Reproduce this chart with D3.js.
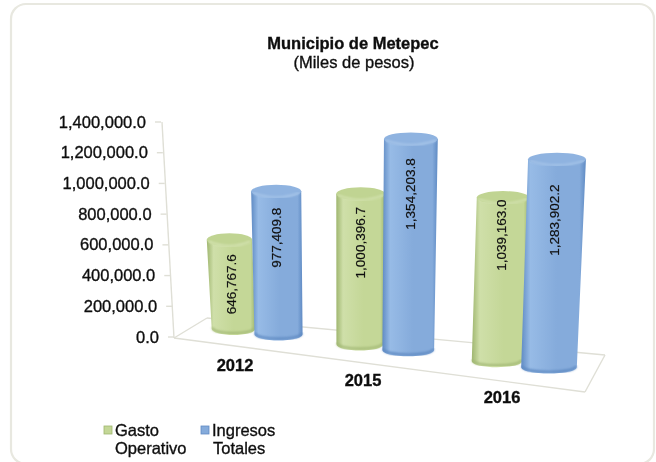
<!DOCTYPE html>
<html><head><meta charset="utf-8"><script src="https://cdn.jsdelivr.net/npm/d3@7"></script>
<style>html,body{margin:0;padding:0;background:#fff}svg{display:block}text{font-family:"Liberation Sans",Arial,sans-serif;fill:#111;stroke:#111;stroke-width:.35}</style></head>
<body><svg id="c" width="656" height="462"></svg>
<script>
const categories = ["2012","2015","2016"];
const seriesNames = ["Gasto Operativo","Ingresos Totales"];
const gastoOperativo = [646767.6,1000396.7,1039163.0];
const ingresosTotales = [977409.8,1354203.8,1283902.2];
const yTicks = [0,200000,400000,600000,800000,1000000,1200000,1400000];
const labelFractions = [[0.5,0.66],[0.66,0.725],[0.75,0.695]];

const svg = d3.select("#c");
const defs = svg.append("defs");
defs.append("filter").attr("id","soft").attr("x","-5%").attr("y","-5%").attr("width","110%").attr("height","110%")
  .append("feGaussianBlur").attr("stdDeviation",0.5);
defs.append("filter").attr("id","blur2").append("feGaussianBlur").attr("stdDeviation",1.2);

const palette = [
 {edge:"#9fb66f",mid:"#cfdfa9",light:"#c4d797",top:"#c0d492",rim:"#d6e4b4",low:"#a3b976"},
 {edge:"#5f8bc4",mid:"#97bbe6",light:"#85abdb",top:"#8fb3e0",rim:"#a9c7ea",low:"#5f8ac2"}];
palette.forEach((p,i)=>{
  const g=defs.append("linearGradient").attr("id","g"+i);
  [[0,p.edge],[.14,p.mid],[.55,p.light],[.9,p.light],[1,p.edge]].forEach(s=>g.append("stop").attr("offset",s[0]).attr("stop-color",s[1]));
});

// panel
svg.append("rect").attr("x",11).attr("y",4).attr("width",643).attr("height",460).attr("rx",15)
  .attr("fill","#fff").attr("stroke","#e8e8e0").attr("stroke-width",2.2).attr("filter","url(#soft)");

const root = svg.append("g").attr("filter","url(#soft)");

// projected scales
const yAxisScale = d3.scaleLinear().domain([0,1400000]).range([337,122]);
const wallX = d3.scaleLinear().domain([337,122]).range([174,161]);
const groupPos = d3.scalePoint().domain(categories).range([0,1]);
const groupX = d3.scalePow().exponent(1.06).domain([0,1]).range([256,523]);
const baseY = d3.scaleLinear().domain([234,549]).range([335,373.5]);
const unitPx = d3.scaleLinear().domain([232,550]).range([1.57e-4,1.72e-4]);
const lean = d3.scaleLinear().domain([234,549]).range([-4,8]);
const bandW = d3.scaleLinear().domain([256,523]).range([45,52]);
const fmt = d3.format(",.1f");

// floor and wall
const gridColor="#dfdfd6";
[[[162,122],[174,338]],[[174,338],[207,318]],[[174,338],[585,392]],[[207,318],[605,355]],[[605,355],[585,392]]].forEach(l=>{
  root.append("line").attr("x1",l[0][0]).attr("y1",l[0][1]).attr("x2",l[1][0]).attr("y2",l[1][1])
    .attr("stroke",gridColor).attr("stroke-width",1.4);
});
// y axis
yTicks.forEach(v=>{
  const y=yAxisScale(v), x=wallX(y);
  root.append("line").attr("x1",x-6).attr("x2",x).attr("y1",y).attr("y2",y).attr("stroke",gridColor).attr("stroke-width",1.4);
  root.append("text").attr("x",x-15).attr("y",y+5.5).attr("text-anchor","end")
    .attr("font-size",16.5).text(fmt(v));
});

// cylinders
function cylinder(cx,base,h,w,i){
  const ry=6.5, top=base-h, dx=lean(cx), tw=w*1.04, tx=cx+dx;
  const g=root.append("g");
  const path=d3.path();
  path.moveTo(tx-tw/2,top+ry);
  path.lineTo(cx-w/2,base-ry);
  path.bezierCurveTo(cx-w/2,base+ry/3,cx+w/2,base+ry/3,cx+w/2,base-ry);
  path.lineTo(tx+tw/2,top+ry);
  path.closePath();
  g.append("path").attr("d",path.toString()).attr("fill",`url(#g${i})`);
  g.append("path").attr("d",`M${cx-w/2+1},${base-ry-1}C${cx-w/2+1},${base+ry/3-2} ${cx+w/2-1},${base+ry/3-2} ${cx+w/2-1},${base-ry-1}`)
    .attr("fill","none").attr("stroke",palette[i].low).attr("stroke-width",2.2).attr("filter","url(#blur2)");
  g.append("ellipse").attr("cx",tx).attr("cy",top+ry).attr("rx",tw/2).attr("ry",ry).attr("fill",palette[i].top);
  g.append("path").attr("d",`M${tx-tw/2+2},${top+ry+1.5}Q${tx},${top+2*ry+4} ${tx+tw/2-2},${top+ry+1.5}`)
    .attr("fill","none").attr("stroke",palette[i].rim).attr("stroke-width",1.8).attr("filter","url(#blur2)");
}
const series=[gastoOperativo,ingresosTotales];
const labels=[];
categories.forEach((c,k)=>{
  const gx=groupX(groupPos(c)), bw=bandW(gx);
  series.forEach((vals,i)=>{
    const cx=gx+(i?1:-1)*bw/2, w=bw*(i?1.07:.97), base=baseY(cx), h=vals[k]*unitPx(cx);
    cylinder(cx,base,h,w,i);
    const f=labelFractions[k][i];
    labels.push({x:cx+lean(cx)*f,y:base-h*f,t:fmt(vals[k])});
  });
});
labels.forEach(d=>{
  root.append("text").attr("transform",`translate(${d.x+4.5},${d.y}) rotate(-90)`).attr("text-anchor","middle")
    .attr("font-size",13.5).style("stroke-width",.2).text(d.t);
});

// category labels
categories.forEach(c=>{
  const gx=groupX(groupPos(c));
  root.append("text").attr("x",gx-21).attr("y",baseY(gx)+33).attr("text-anchor","middle")
    .attr("font-size",16.5).attr("font-weight","bold").text(c);
});

// title
root.append("text").attr("x",353).attr("y",49).attr("text-anchor","middle").attr("font-size",16.5).attr("font-weight","bold").text("Municipio de Metepec");
root.append("text").attr("x",354).attr("y",68).attr("text-anchor","middle").attr("font-size",16.5).text("(Miles de pesos)");

// legend
const legendX=[104,201];
seriesNames.forEach((n,i)=>{
  const parts=n.split(" ");
  root.append("rect").attr("x",legendX[i]).attr("y",426).attr("width",8).attr("height",8).attr("fill",palette[i].light).attr("stroke",palette[i].edge).attr("stroke-width",.8);
  root.append("text").attr("x",legendX[i]+11).attr("y",436).attr("font-size",16.5).text(parts[0]);
  root.append("text").attr("x",legendX[i]+11+(i?1:0)).attr("y",454).attr("font-size",16.5).text(parts[1]);
});
</script></body></html>
